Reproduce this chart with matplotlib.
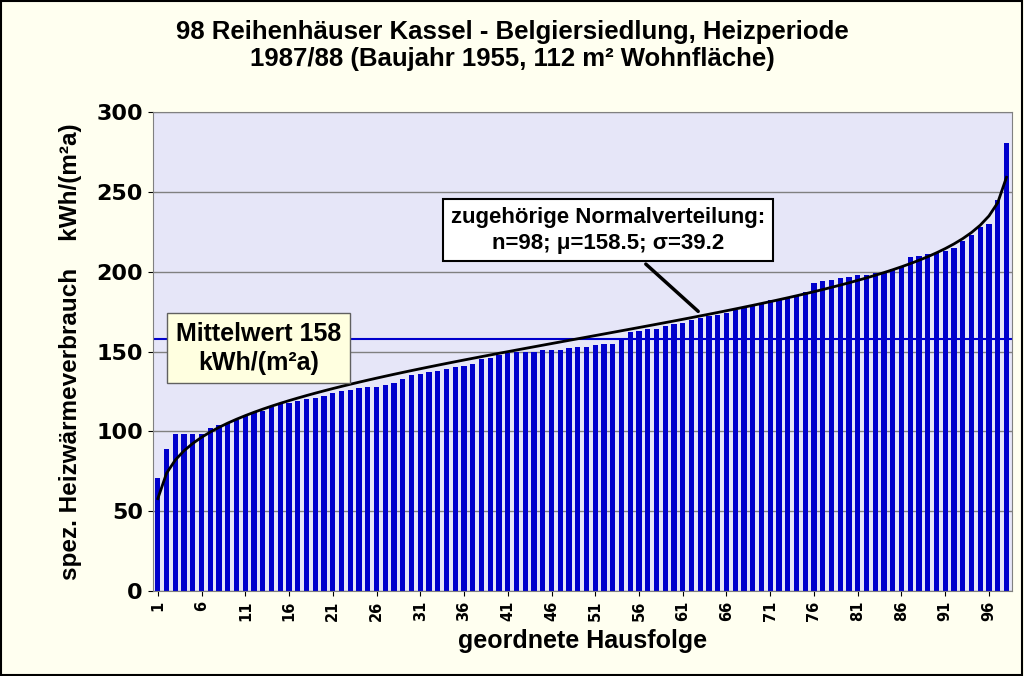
import matplotlib
matplotlib.use("Agg")
import matplotlib.pyplot as plt
import numpy as np
from statistics import NormalDist

values = [71, 89, 98, 98, 98, 98, 102, 104, 105, 107, 110, 112, 113, 115, 117, 118, 119, 120, 121, 122,
          124, 125, 126, 127, 128, 128, 129, 130, 133, 135, 136, 137, 138, 139, 140, 141, 142, 145, 146, 148,
          149, 150, 150, 150, 151, 151, 151, 152, 153, 153, 154, 155, 155, 158, 162, 163, 164, 164, 166, 167,
          168, 170, 171, 172, 173, 174, 176, 178, 179, 180, 182, 183, 184, 185, 187, 193, 194, 195, 196, 197,
          198, 198, 199, 200, 202, 203, 209, 210, 211, 212, 213, 215, 219, 223, 228, 230, 245, 281]
mean_value = 158
n, mu, sigma = 98, 158.5, 39.2
tick_labels = [str(i) for i in range(1, 99, 5)]

x = np.arange(1, len(values) + 1)
nd = NormalDist(mu, sigma)
curve = [nd.inv_cdf((i - 0.5) / n) for i in x]

fig = plt.figure(figsize=(10.24, 6.76), dpi=100, facecolor="#FFFFF0")
fig.patches.append(plt.Rectangle((0.001, 0.001), 0.997, 0.997, transform=fig.transFigure,
                                 fill=False, edgecolor="black", lw=1.5))
ax = fig.add_axes([0.149, 0.126, 0.839, 0.708], facecolor="#E6E6F8")
ax.bar(x, values, width=0.6, color="#0000CC", zorder=2)
ax.plot(x, curve, color="black", lw=2, zorder=3)
ax.axhline(mean_value, color="#0000CC", lw=1.5, zorder=2.5)
ax.set_xlim(0.4, 98.6)
ax.set_ylim(0, 300)
ax.set_yticks(range(0, 301, 50))
ax.yaxis.grid(True, color="#808080", lw=1, zorder=0)
ax.set_xticks(range(1, 99, 5))
ax.set_xticklabels(tick_labels, rotation=90, fontsize=10.5, fontweight="bold")
ax.tick_params(axis="y", labelsize=16)
for lab in ax.get_yticklabels():
    lab.set_fontweight("bold")
ax.set_xlabel("geordnete Hausfolge", fontsize=18, fontweight="bold", family="Liberation Sans", labelpad=6)
ax.set_ylabel("spez. Heizwärmeverbrauch    kWh/(m²a)", fontsize=17.5, fontweight="bold",
              family="Liberation Sans", labelpad=10)
for s in ax.spines.values():
    s.set_color("#808080")
fig.suptitle("98 Reihenhäuser Kassel - Belgiersiedlung, Heizperiode\n1987/88 (Baujahr 1955, 112 m² Wohnfläche)",
             fontsize=18.5, fontweight="bold", family="Liberation Sans", y=0.97, linespacing=1.15)
ax.text(12.5, 152, "Mittelwert 158\nkWh/(m²a)", ha="center", va="center", fontsize=18,
        fontweight="bold", family="Liberation Sans", zorder=5, linespacing=1.25,
        bbox=dict(boxstyle="square,pad=0.35", fc="#FFFFE0", ec="#606060", lw=1))
ax.annotate("zugehörige Normalverteilung:\nn=98; μ=158.5; σ=39.2", xy=(63, 174), xytext=(52.5, 226),
            ha="center", va="center", fontsize=16, fontweight="bold", family="Liberation Sans", zorder=5,
            linespacing=1.3,
            bbox=dict(boxstyle="square,pad=0.35", fc="white", ec="black", lw=1.5),
            arrowprops=dict(arrowstyle="-", color="black", lw=2.5))
fig.savefig("out.png", dpi=100, facecolor=fig.get_facecolor())
